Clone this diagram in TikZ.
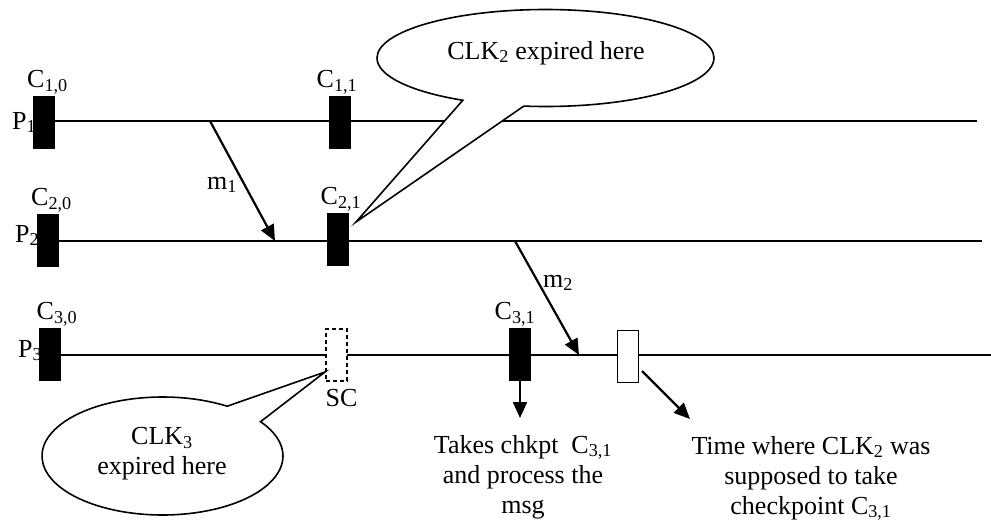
\documentclass[tikz,border=0pt]{standalone}
\usepackage{fontspec}
\setmainfont{Liberation Serif}
\usepackage{tikz}
\usetikzlibrary{arrows.meta, positioning, shapes.callouts}
\tikzstyle{txt} = [inner sep=0pt, font=\fontsize{26}{30}\selectfont]
\tikzstyle{chk} = [rectangle, minimum width=21pt, minimum height=52pt, inner sep=0pt, draw=black, fill=black, line width=1pt]
\tikzstyle{softchk} = [chk, fill=white, dash pattern=on 4pt off 3pt, line width=1.2pt]
\tikzstyle{latechk} = [chk, fill=white, line width=1.5pt]
\tikzstyle{proc} = [line width=2.2pt]
\tikzstyle{arr} = [-{Triangle[length=16pt, width=14pt]}, line width=2.2pt]
\tikzstyle{bubble} = [ellipse callout, draw=black, fill=white, line width=1.6pt, callout pointer arc=22]

\begin{document}
\begin{tikzpicture}[x=1pt, y=-1pt]
  \useasboundingbox (0,0) rectangle (991,520);
  % Process names
  \node[txt, anchor=base west] (p1) at (12,129) {P\textsubscript{1}};
  \node[txt, anchor=base west] (p2) at (15,242) {P\textsubscript{2}};
  \node[txt, anchor=base west] (p3) at (18,357) {P\textsubscript{3}};
  % Time lines
  \coordinate (p1s) at (44,121);  \coordinate (p1e) at (977,121);
  \coordinate (p2s) at (48,241);  \coordinate (p2e) at (982,241);
  \coordinate (p3s) at (50,355);  \coordinate (p3e) at (991,355);
  \draw[proc] (p1s) -- (p1e);
  \draw[proc] (p2s) -- (p2e);
  \draw[proc] (p3s) -- (p3e);
  % Messages
  \coordinate (m1s) at (210,121);  \coordinate (m1e) at (275,241);
  \coordinate (m2s) at (515,241);  \coordinate (m2e) at (579,355);
  \draw[arr] (m1s) -- (m1e);
  \draw[arr] (m2s) -- (m2e);
  \node[txt, anchor=base west] (m1) at (207,189) {m\textsubscript{1}};
  \node[txt, anchor=base west] (m2) at (543,287) {m\textsubscript{2}};
  % Checkpoints
  \node[chk] (c10) at (43.5,122) {};
  \node[chk] (c11) at (340,122) {};
  \node[chk] (c20) at (47.5,240) {};
  \node[chk] (c21) at (338,239) {};
  \node[chk] (c30) at (50,354) {};
  \node[softchk] (sc) at (336.5,355) {};
  \node[chk] (c31) at (520,354) {};
  \node[latechk] (late) at (628,356.5) {};
  \node[txt, above=1pt of c10, xshift=4pt] (c10l) {C\textsubscript{1,0}};
  \node[txt, above=1pt of c11, xshift=-3pt] (c11l) {C\textsubscript{1,1}};
  \node[txt, above=1pt of c20, xshift=4pt] (c20l) {C\textsubscript{2,0}};
  \node[txt, above=1pt of c21, xshift=3pt] (c21l) {C\textsubscript{2,1}};
  \node[txt, above=1pt of c30, xshift=7pt] (c30l) {C\textsubscript{3,0}};
  \node[txt, above=1pt of c31, xshift=-5pt] (c31l) {C\textsubscript{3,1}};
  \node[txt, below=7pt of sc, xshift=5pt] (scl) {SC};
  % Notes below P3
  \coordinate (c31d) at (520,418);
  \coordinate (lates) at (642,371);  \coordinate (lated) at (690,419);
  \draw[arr] (c31) -- (c31d);
  \draw[arr] (lates) -- (lated);
  \node[txt, align=center, anchor=north] (take) at (523,435)
    {Takes chkpt~~C\textsubscript{3,1}\\and process the\\msg};
  \node[txt, align=center, anchor=north] (when) at (811,436)
    {Time where CLK\textsubscript{2} was\\supposed to take\\checkpoint C\textsubscript{3,1}};
  % Callouts
  \coordinate (tip2) at (356,222);
  \coordinate (tip3) at (325,372);
  \node[bubble, minimum width=337pt, minimum height=97pt, callout absolute pointer={(tip2)}] (clk2) at (545.5,58) {};
  \node[txt, anchor=base] (clk2t) at (546,59) {CLK\textsubscript{2} expired here};
  \node[bubble, minimum width=241pt, minimum height=118pt, callout absolute pointer={(tip3)}] (clk3) at (162.5,456) {};
  \node[txt, align=center, anchor=north] (clk3t) at (162,427) {CLK\textsubscript{3}\\expired here};
\end{tikzpicture}
\end{document}
